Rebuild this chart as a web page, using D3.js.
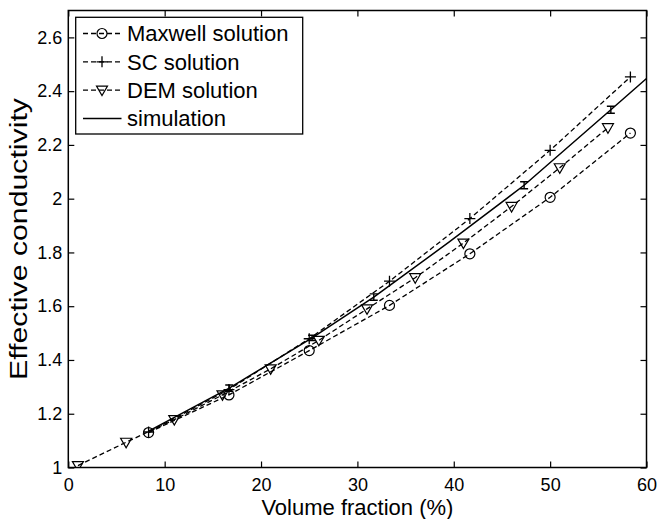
<!DOCTYPE html>
<html>
<head>
<meta charset="utf-8">
<script src="https://cdn.jsdelivr.net/npm/d3@7"></script>
<style>
  body { margin: 0; background: #fff; }
  svg { display: block; font-family: "Liberation Sans", Arial, sans-serif; }
</style>
</head>
<body>
<svg></svg>
<script>
// volume fraction (%) and effective conductivity
var maxwellX = [8.33, 16.67, 25, 33.33, 41.67, 50, 58.33];
var maxwellY = [1.13, 1.27, 1.435, 1.603, 1.795, 2.005, 2.244];

var scX = [8.33, 16.67, 25, 33.33, 41.67, 50, 58.33];
var scY = [1.132, 1.29, 1.479, 1.693, 1.926, 2.18, 2.453];

var demX = [1, 6, 11, 16, 21, 26, 31, 36, 41, 46, 51, 56];
var demY = [1.007, 1.094, 1.178, 1.27, 1.367, 1.473, 1.59, 1.706, 1.835, 1.971, 2.115, 2.264];

var simX = [8.33, 16.7, 25.3, 31.7, 39.5, 47.3, 56.3, 60];
var simY = [1.135, 1.295, 1.482, 1.634, 1.838, 2.05, 2.331, 2.447];
var simErr = [0, 0.012, 0.01, 0.012, 0, 0.013, 0.013, 0];

var xTicks = [0, 10, 20, 30, 40, 50, 60];
var yTicks = [1, 1.2, 1.4, 1.6, 1.8, 2, 2.2, 2.4, 2.6];

var legendLabels = ["Maxwell solution", "SC solution", "DEM solution", "simulation"];

var width = 657, height = 519;
// plot box (note: "top" is a reserved window global, so use a prefix)
var pL = 68.3, pR = 646.5, pT = 10.5, pB = 467.5;

var svg = d3.select("svg").attr("width", width).attr("height", height);

var x = d3.scaleLinear().domain([0, 60]).range([pL, pR]);
var y = d3.scaleLinear().domain([1, 2.7]).range([pB, pT]);

var zip = function(xs, ys) { return xs.map(function(v, i) { return [v, ys[i]]; }); };
var line = d3.line().x(d => x(d[0])).y(d => y(d[1]));

var dash = "5,3";
var lw = 1.3;

// clip to the axes box
svg.append("clipPath").attr("id", "clip")
  .append("rect").attr("x", pL).attr("y", pT)
  .attr("width", pR - pL).attr("height", pB - pT);

var plot = svg.append("g").attr("clip-path", "url(#clip)");

// marker shapes
function drawCircle(g, cx, cy) {
  g.append("circle").attr("cx", cx).attr("cy", cy).attr("r", 5)
    .attr("fill", "none").attr("stroke", "#000").attr("stroke-width", 1.2);
}
function drawPlus(g, cx, cy) {
  g.append("path").attr("d", `M${cx - 5.5},${cy}H${cx + 5.5}M${cx},${cy - 5.5}V${cy + 5.5}`)
    .attr("stroke", "#000").attr("stroke-width", 1.3);
}
function drawTri(g, cx, cy) {
  g.append("path").attr("d", `M${cx - 5.5},${cy - 4}L${cx + 5.5},${cy - 4}L${cx},${cy + 5.5}Z`)
    .attr("fill", "none").attr("stroke", "#000").attr("stroke-width", 1.2);
}

var series = [
  { pts: zip(maxwellX, maxwellY), marker: drawCircle },
  { pts: zip(scX, scY), marker: drawPlus },
  { pts: zip(demX, demY), marker: drawTri }
];

series.forEach(function(s) {
  plot.append("path").attr("d", line(s.pts))
    .attr("fill", "none").attr("stroke", "#000")
    .attr("stroke-width", lw).attr("stroke-dasharray", dash);
  s.pts.forEach(function(p) { s.marker(plot, x(p[0]), y(p[1])); });
});

// simulation: solid line with small error bars
var sim = zip(simX, simY);
plot.append("path").attr("d", line(sim))
  .attr("fill", "none").attr("stroke", "#000").attr("stroke-width", 1.5);
sim.forEach(function(p, i) {
  if (!simErr[i]) return;
  var cx = x(p[0]), y0 = y(p[1] - simErr[i]), y1 = y(p[1] + simErr[i]);
  plot.append("path")
    .attr("d", `M${cx},${y0}V${y1}M${cx - 4},${y0}H${cx + 4}M${cx - 4},${y1}H${cx + 4}`)
    .attr("fill", "none").attr("stroke", "#000").attr("stroke-width", 1.4);
});

// axes box with inward ticks on all sides
var tl = 6;
var fmt = d3.format("~g");
var axB = svg.append("g").attr("transform", `translate(0,${pB})`)
  .call(d3.axisBottom(x).tickValues(xTicks).tickSize(-tl).tickPadding(10).tickFormat(fmt));
var axT = svg.append("g").attr("transform", `translate(0,${pT})`)
  .call(d3.axisTop(x).tickValues(xTicks).tickSize(-tl).tickFormat(""));
var axL = svg.append("g").attr("transform", `translate(${pL},0)`)
  .call(d3.axisLeft(y).tickValues(yTicks).tickSize(-tl).tickPadding(6).tickFormat(fmt));
var axR = svg.append("g").attr("transform", `translate(${pR},0)`)
  .call(d3.axisRight(y).tickValues(yTicks).tickSize(-tl).tickFormat(""));

[axB, axT, axL, axR].forEach(function(a) {
  a.select(".domain").remove();
  a.selectAll(".tick line").attr("stroke", "#000").attr("stroke-width", 1.2);
  a.selectAll(".tick text").attr("fill", "#000").style("font-size", "18px")
    .style("font-family", '"Liberation Sans", Arial, sans-serif');
});
axB.selectAll(".tick text").attr("dy", "0.75em");

svg.append("rect").attr("x", pL).attr("y", pT)
  .attr("width", pR - pL).attr("height", pB - pT)
  .attr("fill", "none").attr("stroke", "#000").attr("stroke-width", 1.5);

// axis titles
svg.append("text").attr("x", (pL + pR) / 2).attr("y", 515)
  .attr("text-anchor", "middle").style("font-size", "22px").text("Volume fraction (%)");
svg.append("text").attr("transform", `translate(27,${(pT + pB) / 2}) rotate(-90)`)
  .attr("text-anchor", "middle").style("font-size", "23px")
  .attr("textLength", 282).attr("lengthAdjust", "spacingAndGlyphs")
  .text("Effective conductivity");

// legend
var lg = svg.append("g");
lg.append("rect").attr("x", 75.7).attr("y", 17.3).attr("width", 227).attr("height", 116.7)
  .attr("fill", "#fff").attr("stroke", "#000").attr("stroke-width", 1.3);
var markers = [drawCircle, drawPlus, drawTri, null];
legendLabels.forEach(function(lab, i) {
  var ly = 33.5 + i * 28.3;
  lg.append("line").attr("x1", 83).attr("x2", 121.5).attr("y1", ly).attr("y2", ly)
    .attr("stroke", "#000").attr("stroke-width", markers[i] ? lw : 1.5)
    .attr("stroke-dasharray", markers[i] ? dash : null);
  if (markers[i]) markers[i](lg, 102, ly);
  lg.append("text").attr("x", 127).attr("y", ly).attr("dy", "0.35em")
    .style("font-size", "22px").text(lab);
});
</script>
</body>
</html>
